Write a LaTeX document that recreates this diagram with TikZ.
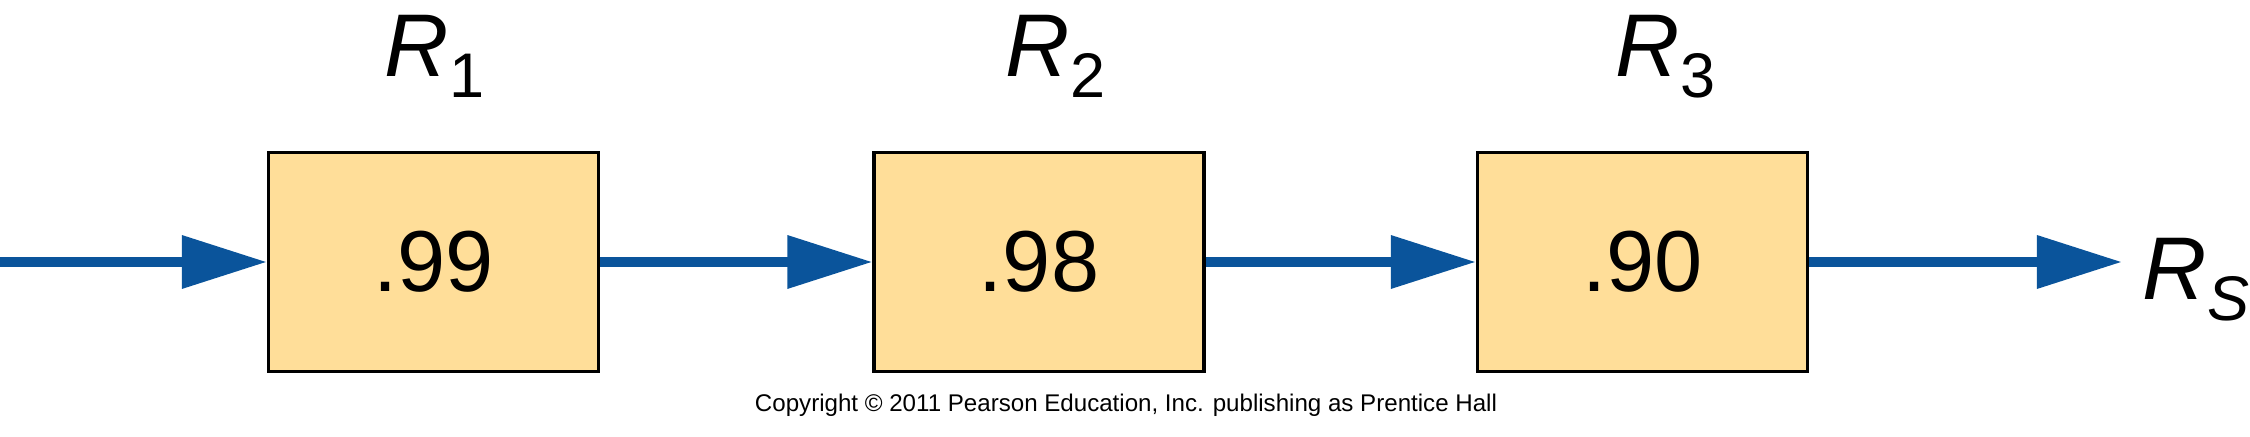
\documentclass[tikz,border=0pt]{standalone}
\usepackage{fontspec}
\setmainfont{Liberation Sans}
\usetikzlibrary{arrows.meta}
\definecolor{flowblue}{RGB}{10,84,155}
\definecolor{boxfill}{RGB}{255,222,153}
\newcommand{\bigR}[1]{{\fontsize{0.89cm}{1cm}\selectfont\itshape R}\raisebox{-0.2cm}{\fontsize{0.63cm}{0.7cm}\selectfont #1}}
\begin{document}
\begin{tikzpicture}[x=0.01cm,y=-0.01cm,
  relbox/.style={draw=black, line width=0.035cm, fill=boxfill, minimum width=3.295cm, minimum height=2.185cm, inner sep=0pt, font=\fontsize{0.865cm}{1cm}\selectfont},
  flow/.style={draw=flowblue, line width=0.1cm, -{Triangle[length=0.85cm,width=0.51cm]}},
  lab/.style={anchor=base west, inner sep=0pt}
]
\useasboundingbox (0,0) rectangle (2250,437);
\node[relbox] (b1) at (433.5,262) {.99};
\node[relbox] (b2) at (1039,262) {.98};
\node[relbox] (b3) at (1642.5,262) {.90};
\coordinate (in) at (0,262);
\coordinate (out) at (2122,262);
\draw[flow] (in) -- (b1.west);
\draw[flow] (b1.east) -- (b2.west);
\draw[flow] (b2.east) -- (b3.west);
\draw[flow] (b3.east) -- (out);
\node[lab] (r1) at (384,77) {\bigR{1}};
\node[lab] (r2) at (1005,77) {\bigR{2}};
\node[lab] (r3) at (1615,77) {\bigR{3}};
\node[lab] (rs) at (2142,300) {\bigR{\itshape S}};
\node[anchor=base, inner sep=0pt, font=\fontsize{0.241cm}{0.3cm}\selectfont] (copy) at (1126,412) {Copyright © 2011 Pearson Education, Inc. publishing as Prentice Hall};
\end{tikzpicture}
\end{document}
